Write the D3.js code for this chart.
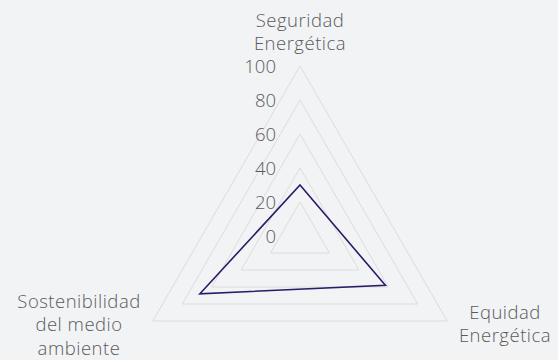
<!DOCTYPE html>
<html>
<head>
<meta charset="utf-8">
<script src="https://cdn.jsdelivr.net/npm/d3@7"></script>
<style>
  html, body { margin: 0; padding: 0; background: #f2f3f5; }
  svg { display: block; }
  text { font-family: "Open Sans", Lato, sans-serif; fill: #5a5a5a; font-weight: 300; }
</style>
</head>
<body>
<svg id="chart" width="558" height="360"></svg>
<script>
// Radar axes, one value per axis
const axes = [
  ["Seguridad", "Energética"],
  ["Equidad", "Energética"],
  ["Sostenibilidad", "del medio", "ambiente"]
];
const values = [30, 58, 68];
const ticks = [0, 20, 40, 60, 80, 100];

const width = 558, height = 360;
const cx = 300, cy = 236;
const svg = d3.select("#chart");

const r = d3.scaleLinear().domain([0, 100]).range([0, 170]);
const angle = d3.scaleLinear().domain([0, axes.length]).range([-Math.PI / 2, 1.5 * Math.PI]);

const pt = (i, v) => [cx + r(v) * Math.cos(angle(i)), cy + r(v) * Math.sin(angle(i))];
const ring = v => d3.range(axes.length).map(i => pt(i, v));
const line = d3.line().curve(d3.curveLinearClosed);

// grid triangles
svg.append("g").selectAll("path").data(ticks.filter(t => t > 0)).join("path")
  .attr("d", v => line(ring(v)))
  .attr("fill", "none")
  .attr("stroke", "#dcdcdc")
  .attr("stroke-width", 1);

// data polygon
svg.append("path")
  .attr("d", line(values.map((v, i) => pt(i, v))))
  .attr("fill", "none")
  .attr("stroke", "#2c1a66")
  .attr("stroke-width", 1.6)
  .attr("stroke-linejoin", "miter");

// tick labels
svg.append("g").selectAll("text").data(ticks).join("text")
  .attr("x", 276)
  .attr("y", v => cy - r(v))
  .attr("dy", "0.36em")
  .attr("text-anchor", "end")
  .style("font-size", "18.5px")
  .text(v => v);

// axis labels
const labelPos = [[300, 20], [505, 312], [79, 301]];
axes.forEach((lines, i) => {
  const t = svg.append("text")
    .attr("text-anchor", "middle")
    .style("font-size", "18.5px")
    .style("letter-spacing", "0.5px");
  lines.forEach((s, k) => {
    t.append("tspan")
      .attr("x", labelPos[i][0])
      .attr("y", labelPos[i][1] + k * 23.5)
      .attr("dy", "0.36em")
      .text(s);
  });
});
</script>
</body>
</html>
